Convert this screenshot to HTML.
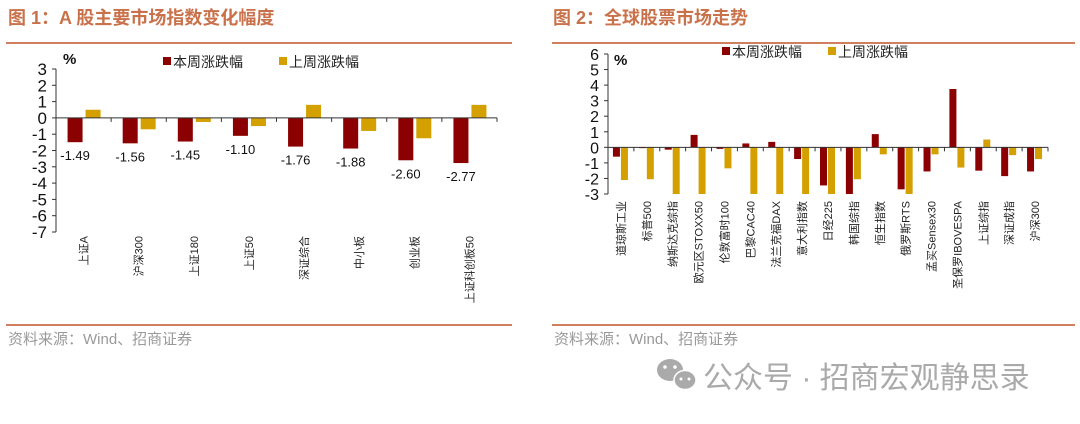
<!DOCTYPE html>
<html><head><meta charset="utf-8">
<style>
body{margin:0;width:1080px;height:419px;background:#fff;overflow:hidden;font-family:"Liberation Sans","Noto Sans CJK SC",sans-serif;}
svg text{font-family:"Liberation Sans","Noto Sans CJK SC",sans-serif;}
</style></head>
<body>
<svg id="s" width="1080" height="419" xmlns="http://www.w3.org/2000/svg">
<text x="8" y="24" font-size="18" font-weight="bold" fill="#c9714a">图 1：A 股主要市场指数变化幅度</text>
<text x="553" y="24" font-size="18" font-weight="bold" fill="#c9714a">图 2：全球股票市场走势</text>
<rect x="6" y="42" width="506" height="2" fill="#d0805e"/>
<rect x="552" y="42" width="523" height="2" fill="#d0805e"/>
<rect x="6" y="324" width="506" height="2" fill="#d0805e"/>
<rect x="552" y="324" width="523" height="2" fill="#d0805e"/>
<text x="8" y="344" font-size="15" fill="#999">资料来源：Wind、招商证券</text>
<text x="554" y="344" font-size="15" fill="#999">资料来源：Wind、招商证券</text>
<g>
<ellipse cx="670" cy="370" rx="13" ry="11" fill="#aaa"/>
<ellipse cx="685" cy="380" rx="11" ry="9.5" fill="#aaa" stroke="#fff" stroke-width="1.5"/>
<circle cx="665" cy="367" r="1.8" fill="#fff"/><circle cx="675" cy="367" r="1.8" fill="#fff"/>
<circle cx="681" cy="379" r="1.5" fill="#fff"/><circle cx="689" cy="379" r="1.5" fill="#fff"/>
</g>
<text x="703" y="388" font-size="30" fill="#aaa">公众号 · 招商宏观静思录</text>
<g id="left"></g>
<g id="right"></g>
</svg>
<script>
const leftCats=["上证A","沪深300","上证180","上证50","深证综合","中小板","创业板","上证科创板50"];
const leftThis=[-1.49,-1.56,-1.45,-1.10,-1.76,-1.88,-2.60,-2.77];
const leftLast=[0.5,-0.7,-0.25,-0.5,0.8,-0.8,-1.25,0.8];
const leftTicks=[3,2,1,0,-1,-2,-3,-4,-5,-6,-7];
const rightCats=["道琼斯工业","标普500","纳斯达克综指","欧元区STOXX50","伦敦富时100","巴黎CAC40","法兰克福DAX","意大利指数","日经225","韩国综指","恒生指数","俄罗斯RTS","孟买Sensex30","圣保罗IBOVESPA","上证综指","深证成指","沪深300"];
const rightThis=[-0.6,-0.05,-0.15,0.8,-0.1,0.25,0.35,-0.75,-2.45,-3.0,0.85,-2.7,-1.55,3.75,-1.5,-1.85,-1.55];
const rightLast=[-2.1,-2.05,-3,-3,-1.35,-3,-3,-3,-3,-2.05,-0.45,-3,-0.45,-1.3,0.5,-0.5,-0.75];
const rightTicks=[6,5,4,3,2,1,0,-1,-2,-3];
const NS="http://www.w3.org/2000/svg";
const RED="#8b0000",GOLD="#d4a000";
function mk(p,tag,at,txt){const e=document.createElementNS(NS,tag);for(const k in at)e.setAttribute(k,at[k]);if(txt!==undefined)e.textContent=txt;p.appendChild(e);return e;}
function chart(g,o){
  const y=v=>o.y0+(o.vmax-v)*(o.y1-o.y0)/(o.vmax-o.vmin);
  const bw=(o.x1-o.x0)/o.cats.length;
  const x=i=>o.x0+bw*i+bw/2;
  let a=mk(g,"line",{x1:o.x0,y1:o.y0,x2:o.x0,y2:o.y1,stroke:"#333","stroke-width":1});
  
  o.ticks.forEach(t=>{
    const tl=mk(g,"line",{x1:o.x0-4,x2:o.x0,y1:y(t),y2:y(t),stroke:"#333"});
    
    const tt=mk(g,"text",{x:o.x0-9,y:y(t)+6,"font-size":o.tfs,"text-anchor":"end",fill:"#111"},String(t));
    
  });
  const u=mk(g,"text",{x:o.ux,y:o.uy,"font-size":15,fill:"#111","font-weight":"bold"},"%");
  
  o.cats.forEach((c,i)=>{
    const cx=x(i);
    const v1=o.a[i],v2=o.b[i];
    const r=mk(g,"rect",{x:cx-o.bwid-o.gap,y:Math.min(y(0),y(v1)),width:o.bwid,height:Math.abs(y(v1)-y(0)),fill:RED});
    
    const r2=mk(g,"rect",{x:cx+o.gap2,y:Math.min(y(0),y(v2)),width:o.bwid,height:Math.abs(y(v2)-y(0)),fill:GOLD});
    
    if(o.labels){
      const lt=mk(g,"text",{x:cx-o.bwid/2-o.gap,y:y(v1)+18,"font-size":13,"text-anchor":"middle",fill:"#111"},v1.toFixed(2));
      
    }
    const ly=o.ly, lx=cx+o.lxo;
    const ct=mk(g,"text",{x:lx,y:ly,"font-size":o.cfs,"text-anchor":"end",fill:"#222",transform:`rotate(-90 ${lx} ${ly})`},c);
    
    if(i>0){const tk=mk(g,"line",{x1:o.x0+bw*i,x2:o.x0+bw*i,y1:y(0),y2:y(0)+4,stroke:"#333"});
      }
  });
  const xa=mk(g,"line",{x1:o.x0,x2:o.x1,y1:y(0),y2:y(0),stroke:"#333","stroke-width":1});
  
  const e=mk(g,"line",{x1:o.x1,x2:o.x1,y1:y(0),y2:y(0)+4,stroke:"#333"});
  
  const lg=mk(g,"g",{});
  
  [[RED,"本周涨跌幅",o.lx1],[GOLD,"上周涨跌幅",o.lx2]].forEach(([col,t,lx])=>{
    const le=mk(lg,"g",{});
    
    mk(le,"rect",{x:lx,y:o.legy-12,width:8,height:8,fill:col});
    mk(le,"text",{x:lx+10,y:o.legy-2,"font-size":14,fill:"#222"},t);
  });
}
chart(document.getElementById("left"),{cats:leftCats,a:leftThis,b:leftLast,ticks:leftTicks,vmax:3,vmin:-7,x0:56,x1:497,y0:69,y1:232,bwid:15,gap:1,gap2:2,labels:true,ly:236,cfs:11,lxo:4,tfs:17,ux:63,uy:64,lx1:163,lx2:279,legy:69});
chart(document.getElementById("right"),{cats:rightCats,a:rightThis,b:rightLast,ticks:rightTicks,vmax:6,vmin:-3,x0:608,x1:1048,y0:54,y1:194,bwid:7,gap:1,gap2:0,labels:false,ly:201,cfs:11,lxo:4,tfs:16,ux:614,uy:65,lx1:722,lx2:828,legy:59});
</script>
</body></html>
